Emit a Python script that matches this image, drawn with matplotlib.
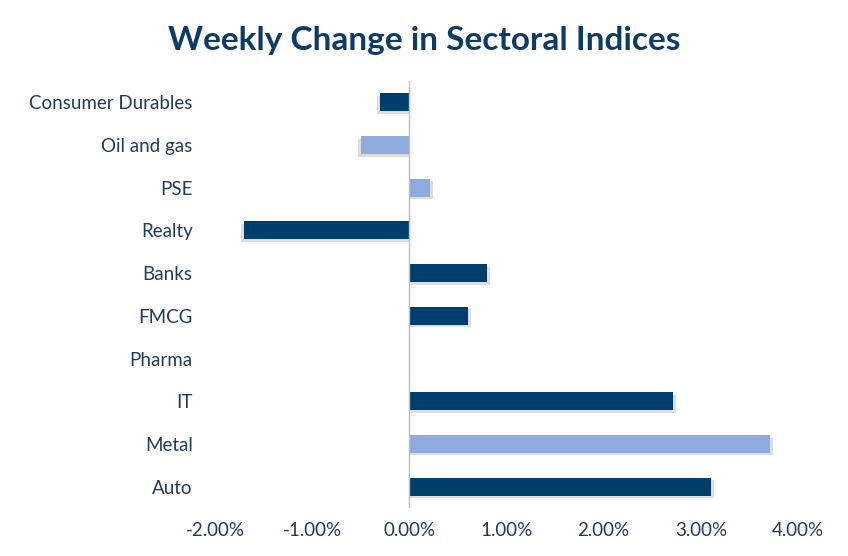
import matplotlib
matplotlib.use("Agg")
import matplotlib.pyplot as plt
from matplotlib.ticker import FuncFormatter

categories = ["Consumer Durables", "Oil and gas", "PSE", "Realty", "Banks", "FMCG", "Pharma", "IT", "Metal", "Auto"]
values = [-0.30, -0.50, 0.21, -1.70, 0.80, 0.60, 0.0, 2.71, 3.71, 3.11]
light = {"Oil and gas", "PSE", "Metal"}
dark_c, light_c = "#003f6b", "#8faadc"
colors = [light_c if c in light else dark_c for c in categories]

plt.rcParams['font.family'] = ['Lato', 'DejaVu Sans']
fig = plt.figure(figsize=(8.48, 5.56), dpi=100)
ax = fig.add_axes([0.2535, 0.0863, 0.6875, 0.768])
y = list(range(len(categories)))[::-1]
sh = [(v + (0.03 if v > 0 else -0.03)) if v != 0 else 0 for v in values]
ax.barh([v - 0.06 for v in y], sh, height=0.42, color="#bfbfbf", alpha=0.5, zorder=1)
ax.barh(y, values, height=0.42, color=colors, zorder=2)
ax.axvline(0, color="#bfbfbf", lw=1, zorder=3)
ax.set_xlim(-2, 4)
ax.set_ylim(-0.5, 9.5)
ax.set_yticks(y)
ax.set_yticklabels(categories)
ax.set_xticks([-2, -1, 0, 1, 2, 3, 4])
ax.xaxis.set_major_formatter(FuncFormatter(lambda v, p: f"{v:.2f}%"))
for s in ax.spines.values():
    s.set_visible(False)
ax.tick_params(axis='both', length=0, labelsize=13.5, labelcolor="#1f3b5c")
ax.tick_params(axis='y', pad=16)
ax.tick_params(axis='x', pad=10)
fig.text(0.5, 0.928, "Weekly Change in Sectoral Indices", ha="center", va="center",
         fontsize=24, fontweight="bold", color="#0d3b66")
fig.savefig("out.png", dpi=100)
